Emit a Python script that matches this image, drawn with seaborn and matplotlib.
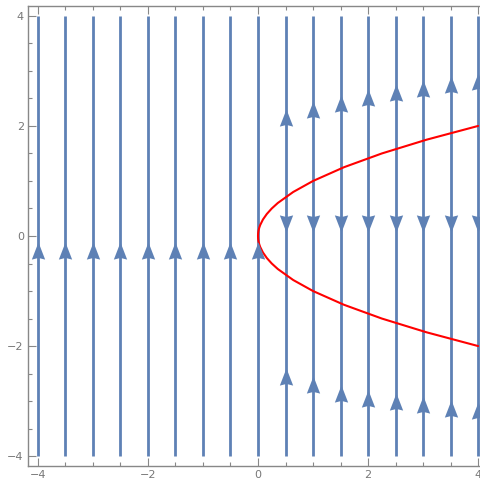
import numpy as np
import matplotlib
matplotlib.use("Agg")
import matplotlib.pyplot as plt
from matplotlib.path import Path
from matplotlib.ticker import MultipleLocator
import seaborn as sns

# stream line positions
stream_x = [-4, -3.5, -3, -2.5, -2, -1.5, -1, -0.5, 0, 0.5, 1, 1.5, 2, 2.5, 3, 3.5, 4]
stream_y0 = -4
stream_y1 = 4

# arrow heads
left_up_x = [-4, -3.5, -3, -2.5, -2, -1.5, -1, -0.5, 0]
left_up_y = [-0.3] * 9
right_x = [0.5, 1, 1.5, 2, 2.5, 3, 3.5, 4]
top_up_y = [2.1, 2.25, 2.37, 2.47, 2.56, 2.63, 2.71, 2.77]
mid_down_y = [0.28] * 8
low_up_y = [-2.6, -2.75, -2.9, -3.0, -3.06, -3.1, -3.18, -3.22]

# red curve (x = y^2 boundary)
curve_y = [-2, -1.75, -1.5, -1.25, -1, -0.8, -0.6, -0.5, -0.4, -0.3, -0.2, -0.15, -0.1, -0.05, 0,
           0.05, 0.1, 0.15, 0.2, 0.3, 0.4, 0.5, 0.6, 0.8, 1, 1.25, 1.5, 1.75, 2]
curve_x = [4, 3.0625, 2.25, 1.5625, 1, 0.64, 0.36, 0.25, 0.16, 0.09, 0.04, 0.0225, 0.01, 0.0025, 0,
           0.0025, 0.01, 0.0225, 0.04, 0.09, 0.16, 0.25, 0.36, 0.64, 1, 1.5625, 2.25, 3.0625, 4]

blue = "#5E81B5"
grey = "#888888"

sns.set_style("ticks")
plt.rcParams['font.family'] = ['DejaVu Sans']

fig = plt.figure(figsize=(4.8, 4.83), dpi=100)
ax = fig.add_axes([28 / 480, 17 / 483, 460 / 480, 460 / 483])

ax.vlines(stream_x, stream_y0, stream_y1, color=blue, lw=2.0, zorder=2)

sns.lineplot(x=curve_x, y=curve_y, sort=False, estimator=None, color="red",
             lw=1.5, ax=ax, zorder=3)

up_marker = Path([(0, 1), (-0.6, -0.55), (0, -0.4), (0.6, -0.55), (0, 1)],
                 [Path.MOVETO, Path.LINETO, Path.LINETO, Path.LINETO, Path.CLOSEPOLY])
down_marker = Path([(0, -1), (-0.6, 0.55), (0, 0.4), (0.6, 0.55), (0, -1)],
                   [Path.MOVETO, Path.LINETO, Path.LINETO, Path.LINETO, Path.CLOSEPOLY])

ms = 16
ax.plot(left_up_x, left_up_y, ls="none", marker=up_marker, ms=ms, color=blue, mew=0, zorder=4)
ax.plot(right_x, top_up_y, ls="none", marker=up_marker, ms=ms, color=blue, mew=0, zorder=4)
ax.plot(right_x, low_up_y, ls="none", marker=up_marker, ms=ms, color=blue, mew=0, zorder=4)
ax.plot(right_x, mid_down_y, ls="none", marker=down_marker, ms=ms, color=blue, mew=0, zorder=4)

ax.set_xlim(-4.18, 4.18)
ax.set_ylim(-4.18, 4.18)
ax.xaxis.set_minor_locator(MultipleLocator(0.5))
ax.yaxis.set_minor_locator(MultipleLocator(0.5))
ax.set_xticks([-4, -2, 0, 2, 4])
ax.set_yticks([-4, -2, 0, 2, 4])
ax.set_xticklabels(["\u22124", "\u22122", "0", "2", "4"])
ax.set_yticklabels(["\u22124", "\u22122", "0", "2", "4"])
ax.tick_params(which="both", direction="in", top=True, right=True, color=grey,
               labelsize=8, labelcolor="#777777", width=0.8)
ax.tick_params(which="major", length=6, pad=3)
ax.tick_params(which="minor", length=3)
for s in ax.spines.values():
    s.set_color(grey)
    s.set_linewidth(1)

fig.savefig("out.png", dpi=100)
